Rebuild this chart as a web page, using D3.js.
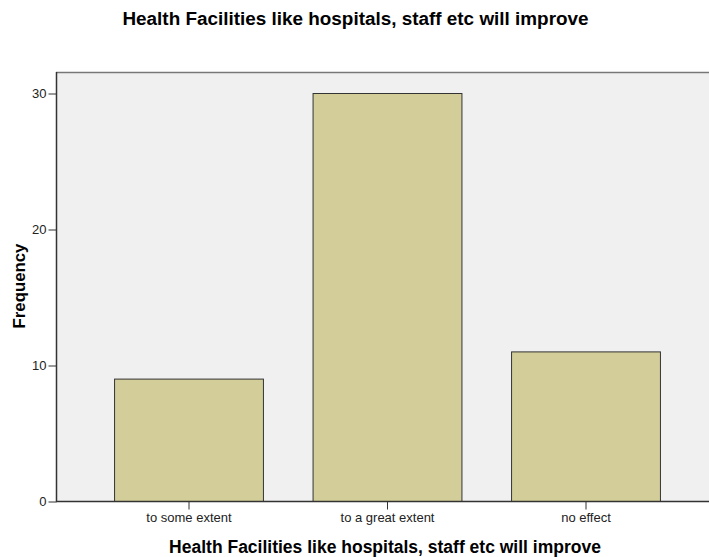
<!DOCTYPE html>
<html><head><meta charset="utf-8">
<script src="https://cdn.jsdelivr.net/npm/d3@7"></script>
<style>body{margin:0;background:#fff}svg{display:block;font-family:"Liberation Sans",Arial,sans-serif}</style>
</head><body>
<svg id="c" width="709" height="557"></svg>
<script>
const categories = ["to some extent", "to a great extent", "no effect"];
const frequencies = [9, 30, 11];
const yTicks = [0, 10, 20, 30];
const title = "Health Facilities like hospitals, staff etc will improve";
const xTitle = "Health Facilities like hospitals, staff etc will improve";
const yTitle = "Frequency";

const svg = d3.select("#c");
const pL = 56, pT = 72, pB = 501, pR = 709;
const y = d3.scaleLinear().domain([0, 30]).range([pB, 93]);
const x = d3.scaleBand().domain(categories).range([89.25, 684.75]).paddingInner(0.25).paddingOuter(0.125);

svg.append("rect").attr("x", pL).attr("y", pT).attr("width", pR - pL).attr("height", pB - pT).attr("fill", "#f0f0f0");
svg.append("line").attr("x1", pL).attr("x2", pR).attr("y1", pT + 0.5).attr("y2", pT + 0.5).attr("stroke", "#777").attr("stroke-width", 1.5);

svg.selectAll("rect.bar").data(frequencies).enter().append("rect").attr("class", "bar")
  .attr("x", (d, i) => x(categories[i]) + 0.5)
  .attr("y", d => y(d) + 0.5)
  .attr("width", x.bandwidth())
  .attr("height", d => pB - y(d))
  .attr("fill", "#d3ce99").attr("stroke", "#333").attr("stroke-width", 1);

const ya = svg.append("g").attr("transform", `translate(${pL + 0.5},0.5)`)
  .call(d3.axisLeft(y).tickValues(yTicks).tickSize(8).tickPadding(2));
ya.select(".domain").remove();
ya.selectAll("line").attr("stroke", "#333");
ya.selectAll("text").attr("font-size", 13).attr("fill", "#222");
svg.append("line").attr("x1", pL + 0.5).attr("x2", pL + 0.5).attr("y1", pT).attr("y2", pB + 1).attr("stroke", "#333").attr("stroke-width", 1.5);

const xa = svg.append("g").attr("transform", `translate(0.5,${pB + 0.5})`)
  .call(d3.axisBottom(x).tickSize(8).tickPadding(3));
xa.select(".domain").remove();
xa.selectAll("line").attr("stroke", "#333");
xa.selectAll("text").attr("font-size", 13).attr("fill", "#222");
svg.append("line").attr("x1", pL).attr("x2", pR).attr("y1", pB + 0.5).attr("y2", pB + 0.5).attr("stroke", "#333").attr("stroke-width", 1.5);

svg.append("text").attr("x", 355.5).attr("y", 25).attr("text-anchor", "middle").attr("font-size", 18.9).attr("font-weight", "bold").text(title);
svg.append("text").attr("x", 385).attr("y", 553).attr("text-anchor", "middle").attr("font-size", 17.5).attr("font-weight", "bold").text(xTitle);
svg.append("text").attr("transform", "translate(25,286) rotate(-90)").attr("text-anchor", "middle").attr("font-size", 16.8).attr("font-weight", "bold").text(yTitle);
</script>
</body></html>
